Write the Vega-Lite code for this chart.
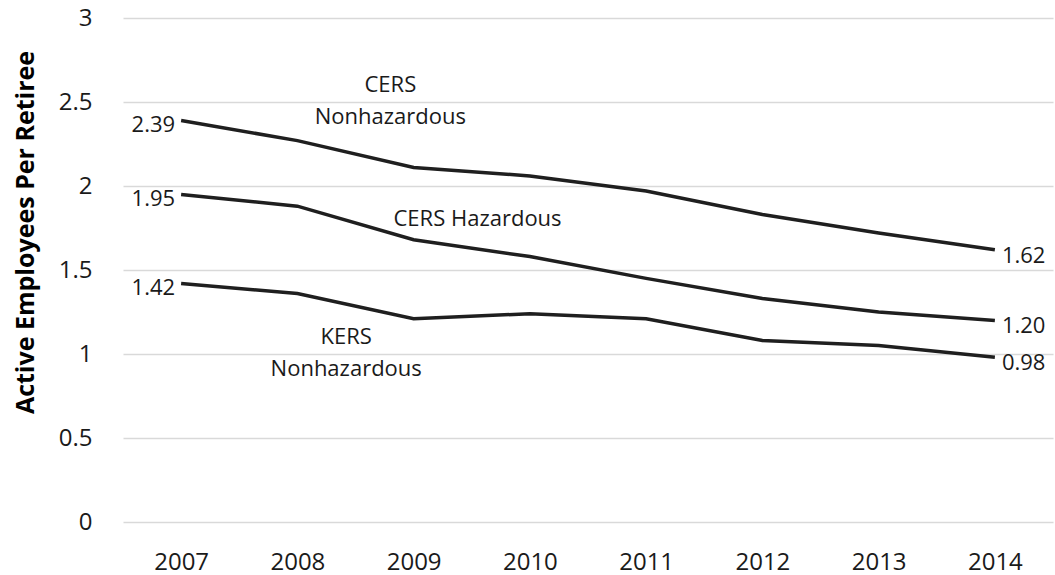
{
  "$schema": "https://vega.github.io/schema/vega-lite/v6.json",
  "width": 930,
  "height": 504,
  "autosize": {"type": "none"},
  "padding": {"left": 123, "top": 18, "right": 2, "bottom": 53},
  "background": "white",
  "config": {
    "view": {"stroke": null},
    "font": "Open Sans",
    "text": {"font": "Open Sans"}
  },
  "datasets": {
    "series": [
      {"series": "CERS Nonhazardous", "year": 2007, "value": 2.39},
      {"series": "CERS Nonhazardous", "year": 2008, "value": 2.27},
      {"series": "CERS Nonhazardous", "year": 2009, "value": 2.11},
      {"series": "CERS Nonhazardous", "year": 2010, "value": 2.06},
      {"series": "CERS Nonhazardous", "year": 2011, "value": 1.97},
      {"series": "CERS Nonhazardous", "year": 2012, "value": 1.83},
      {"series": "CERS Nonhazardous", "year": 2013, "value": 1.72},
      {"series": "CERS Nonhazardous", "year": 2014, "value": 1.62},
      {"series": "CERS Hazardous", "year": 2007, "value": 1.95},
      {"series": "CERS Hazardous", "year": 2008, "value": 1.88},
      {"series": "CERS Hazardous", "year": 2009, "value": 1.68},
      {"series": "CERS Hazardous", "year": 2010, "value": 1.58},
      {"series": "CERS Hazardous", "year": 2011, "value": 1.45},
      {"series": "CERS Hazardous", "year": 2012, "value": 1.33},
      {"series": "CERS Hazardous", "year": 2013, "value": 1.25},
      {"series": "CERS Hazardous", "year": 2014, "value": 1.20},
      {"series": "KERS Nonhazardous", "year": 2007, "value": 1.42},
      {"series": "KERS Nonhazardous", "year": 2008, "value": 1.36},
      {"series": "KERS Nonhazardous", "year": 2009, "value": 1.21},
      {"series": "KERS Nonhazardous", "year": 2010, "value": 1.24},
      {"series": "KERS Nonhazardous", "year": 2011, "value": 1.21},
      {"series": "KERS Nonhazardous", "year": 2012, "value": 1.08},
      {"series": "KERS Nonhazardous", "year": 2013, "value": 1.05},
      {"series": "KERS Nonhazardous", "year": 2014, "value": 0.98}
    ],
    "annotations": [
      {"label": "CERS\nNonhazardous", "year": 2008.8, "value": 2.6},
      {"label": "CERS Hazardous", "year": 2009.55, "value": 1.805},
      {"label": "KERS\nNonhazardous", "year": 2008.42, "value": 1.1}
    ]
  },
  "layer": [
    {
      "data": {"name": "series"},
      "mark": {"type": "line", "color": "#1f1f1f", "strokeWidth": 3.5},
      "encoding": {
        "x": {
          "field": "year", "type": "quantitative",
          "scale": {"domain": [2006.5, 2014.5], "nice": false, "zero": false},
          "axis": {
            "values": [2007, 2008, 2009, 2010, 2011, 2012, 2013, 2014],
            "format": "d", "grid": false, "domain": false, "ticks": false,
            "labelFontSize": 24, "labelColor": "#1a1a1a", "labelPadding": 28,
            "labelFont": "Open Sans", "title": null
          }
        },
        "y": {
          "field": "value", "type": "quantitative",
          "scale": {"domain": [0, 3], "nice": false},
          "axis": {
            "values": [0, 0.5, 1, 1.5, 2, 2.5, 3],
            "format": "~g",
            "grid": true, "gridColor": "#d9d9d9", "gridWidth": 1.5,
            "domain": false, "ticks": false,
            "labelFontSize": 24, "labelColor": "#1a1a1a", "labelPadding": 31,
            "labelFont": "Open Sans",
            "title": "Active Employees  Per Retiree",
            "titleFont": "Open Sans", "titleFontSize": 25, "titleFontWeight": "bold",
            "titleColor": "#000000", "titleX": -98, "titleY": 214,
            "titleAngle": -90, "titleBaseline": "middle", "titleAlign": "center"
          }
        },
        "detail": {"field": "series", "type": "nominal"}
      }
    },
    {
      "data": {"name": "series"},
      "transform": [{"filter": "datum.year === 2007"}],
      "mark": {"type": "text", "align": "right", "baseline": "middle", "dx": -6, "dy": 5, "fontSize": 22, "color": "#1a1a1a"},
      "encoding": {
        "x": {"field": "year", "type": "quantitative"},
        "y": {"field": "value", "type": "quantitative"},
        "text": {"field": "value", "type": "quantitative", "format": ".2f"}
      }
    },
    {
      "data": {"name": "series"},
      "transform": [{"filter": "datum.year === 2014"}],
      "mark": {"type": "text", "align": "left", "baseline": "middle", "dx": 7, "dy": 6, "fontSize": 22, "color": "#1a1a1a"},
      "encoding": {
        "x": {"field": "year", "type": "quantitative"},
        "y": {"field": "value", "type": "quantitative"},
        "text": {"field": "value", "type": "quantitative", "format": ".2f"}
      }
    },
    {
      "data": {"name": "annotations"},
      "mark": {"type": "text", "align": "center", "baseline": "middle", "lineBreak": "\n", "lineHeight": 32, "fontSize": 22, "color": "#1a1a1a"},
      "encoding": {
        "x": {"field": "year", "type": "quantitative"},
        "y": {"field": "value", "type": "quantitative"},
        "text": {"field": "label", "type": "nominal"}
      }
    }
  ]
}
